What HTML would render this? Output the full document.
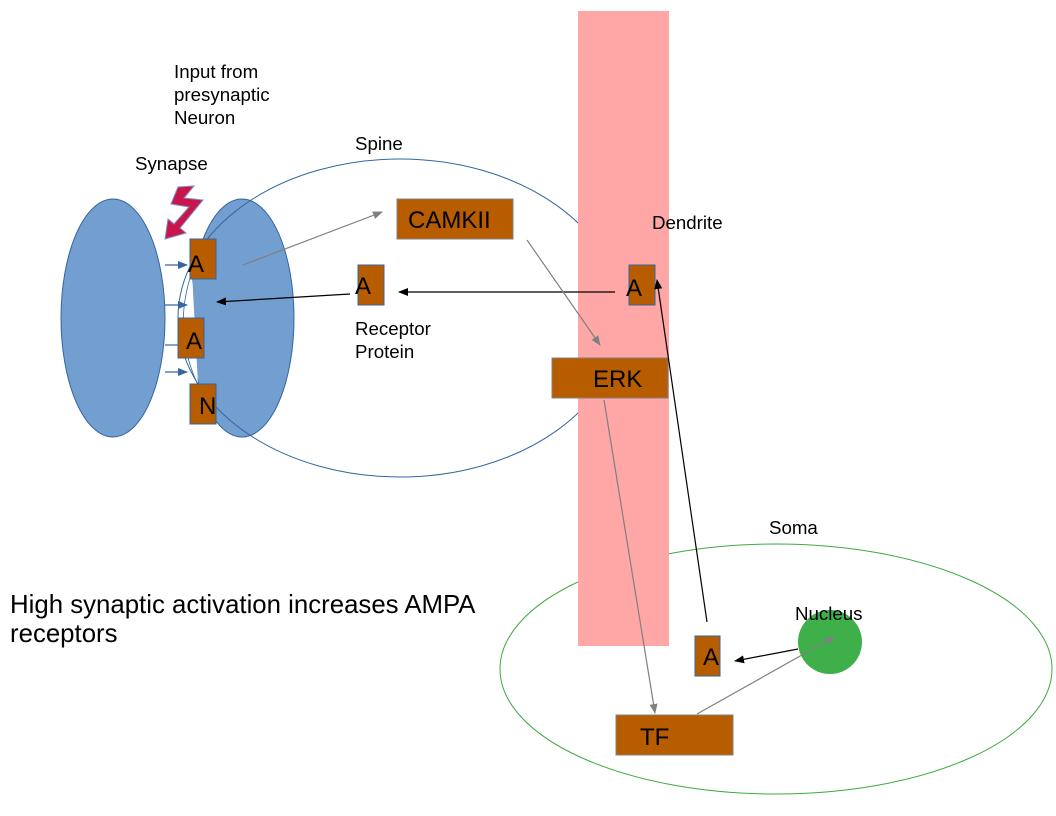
<!DOCTYPE html>
<html><head><meta charset="utf-8"><style>
html,body{margin:0;padding:0;background:#fff;}
svg{display:block;}
text{font-family:"Liberation Sans",sans-serif;}
</style></head><body>
<svg width="1056" height="816" viewBox="0 0 1056 816" xmlns="http://www.w3.org/2000/svg">
<defs>
<marker id="ab" markerWidth="10" markerHeight="8" refX="9" refY="4" orient="auto" markerUnits="userSpaceOnUse"><path d="M0,0 L10,4 L0,8 Z" fill="#000"/></marker>
<marker id="ag" markerWidth="10" markerHeight="8" refX="9" refY="4" orient="auto" markerUnits="userSpaceOnUse"><path d="M0,0 L10,4 L0,8 Z" fill="#808080"/></marker>
<marker id="au" markerWidth="10" markerHeight="8" refX="9" refY="4" orient="auto" markerUnits="userSpaceOnUse"><path d="M0,0 L10,4 L0,8 Z" fill="#3465a4"/></marker>
</defs>
<ellipse cx="113" cy="318" rx="52" ry="119" fill="#729fcf" stroke="#3465a4"/>
<ellipse cx="242" cy="318" rx="52" ry="119" fill="#729fcf" stroke="#3465a4"/>
<path d="M192,272 Q172,330 198,385" fill="#fff" stroke="#3465a4" stroke-width="0.8"/>
<ellipse cx="400" cy="318" rx="222" ry="159" fill="none" stroke="#3465a4" stroke-width="1"/>
<ellipse cx="776" cy="669" rx="276" ry="125" fill="none" stroke="#3faa3f" stroke-width="1"/>
<rect x="578" y="11" width="91" height="635" fill="#ffa6a6"/>
<polygon points="178,187 194,186 184,198 203,200 180,228 186,233 165,239 168,219 174,224 189,207 171,204" fill="#c9154a" stroke="#7a8fc8" stroke-width="1"/>
<g stroke="#3465a4" stroke-width="1.2">
<line x1="165" y1="265" x2="187" y2="265" marker-end="url(#au)"/>
<line x1="165" y1="305" x2="187" y2="305" marker-end="url(#au)"/>
<line x1="165" y1="345" x2="180" y2="345"/>
<line x1="165" y1="372" x2="187" y2="372" marker-end="url(#au)"/>
</g>
<g fill="#b85c00" stroke="#3465a4" stroke-width="1">
<rect x="190" y="239" width="26" height="40"/>
<rect x="178" y="318" width="26" height="40"/>
<rect x="190" y="384" width="26" height="40"/>
<rect x="358" y="265" width="26" height="40"/>
<rect x="629" y="265" width="26" height="40"/>
<rect x="695" y="636" width="25" height="40"/>
</g>
<g fill="#b85c00" stroke="#808080" stroke-width="1">
<rect x="397" y="199" width="116" height="40"/>
<rect x="552" y="358" width="116" height="40"/>
<rect x="616" y="715" width="117" height="40"/>
</g>
<circle cx="830" cy="642" r="32" fill="#3faf49"/>
<g font-size="24" fill="#000">
<text x="188" y="272">A</text>
<text x="186" y="349">A</text>
<text x="199" y="414">N</text>
<text x="355" y="294">A</text>
<text x="626" y="296">A</text>
<text x="703" y="665">A</text>
<text x="408" y="228">CAMKII</text>
<text x="593" y="387">ERK</text>
<text x="640" y="745">TF</text>
</g>
<g stroke-width="1.2">
<line x1="243" y1="265" x2="382" y2="212" stroke="#808080" marker-end="url(#ag)"/>
<line x1="615" y1="292" x2="399" y2="292" stroke="#000" marker-end="url(#ab)"/>
<line x1="350" y1="294" x2="217" y2="302" stroke="#000" marker-end="url(#ab)"/>
<line x1="527" y1="240" x2="600" y2="345" stroke="#808080" marker-end="url(#ag)"/>
<line x1="604" y1="400" x2="655" y2="713" stroke="#808080" marker-end="url(#ag)"/>
<line x1="707" y1="622" x2="657" y2="280" stroke="#000" marker-end="url(#ab)"/>
<line x1="798" y1="649" x2="735" y2="661" stroke="#000" marker-end="url(#ab)"/>
<line x1="697" y1="714" x2="834" y2="637" stroke="#808080" marker-end="url(#ag)"/>
</g>
<g font-size="18.7" fill="#000">
<text x="174" y="78">Input from</text>
<text x="174" y="101">presynaptic</text>
<text x="174" y="124">Neuron</text>
<text x="355" y="150">Spine</text>
<text x="135" y="170">Synapse</text>
<text x="652" y="229">Dendrite</text>
<text x="355" y="335">Receptor</text>
<text x="355" y="358">Protein</text>
<text x="769" y="534">Soma</text>
<text x="795" y="620">Nucleus</text>
</g>
<g font-size="25.8" fill="#000">
<text x="10" y="613">High synaptic activation increases AMPA</text>
<text x="10" y="642">receptors</text>
</g>
</svg>
</body></html>
